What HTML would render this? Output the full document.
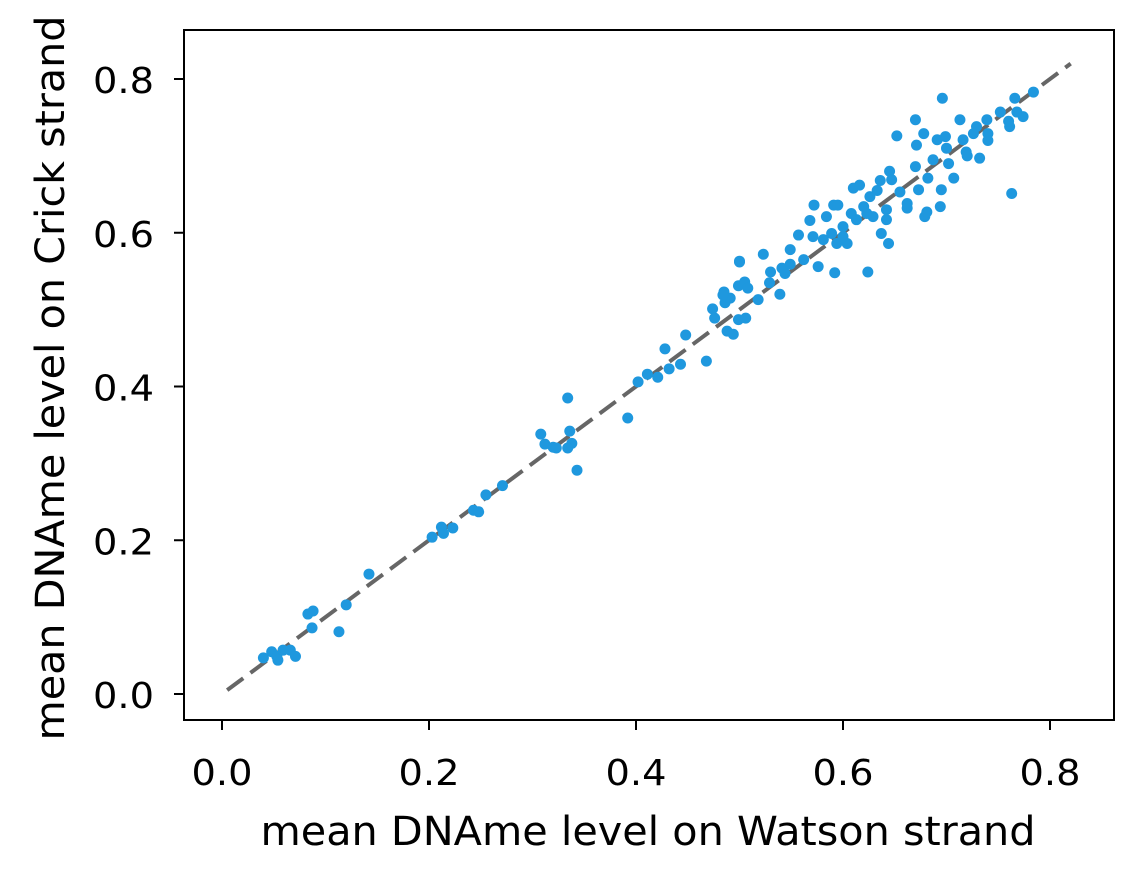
<!DOCTYPE html>
<html><head><meta charset="utf-8"><style>
html,body{margin:0;padding:0;background:#fff;}
svg{display:block;font-family:"DejaVu Sans","Liberation Sans",sans-serif;}
</style></head><body>
<svg id="chart" width="1144" height="882">
<rect x="184" y="30" width="930" height="690" fill="#fff" stroke="#000" stroke-width="2"/>
<g id="ticks"></g>
<line id="diag" stroke="#666" stroke-width="4" stroke-dasharray="20,9"/>
<g id="pts"></g>
<text x="648" y="845" font-size="40" text-anchor="middle" textLength="775" lengthAdjust="spacingAndGlyphs">mean DNAme level on Watson strand</text>
<text transform="translate(64,378) rotate(-90)" font-size="40" text-anchor="middle" textLength="725" lengthAdjust="spacingAndGlyphs">mean DNAme level on Crick strand</text>
</svg>
<script>
const xTicks=[0.0,0.2,0.4,0.6,0.8];
const yTicks=[0.0,0.2,0.4,0.6,0.8];
const tickLabels=["0.0","0.2","0.4","0.6","0.8"];
const diagRange=[0.005,0.82];
const watson=[0.040,0.048,0.053,0.059,0.066,0.071,0.054,0.083,0.088,0.087,0.113,0.120,0.142,0.203,0.212,0.214,0.223,0.243,0.248,0.255,0.271,
0.308,0.312,0.320,0.323,0.334,0.336,0.338,0.334,0.343,0.392,0.402,0.411,0.421,0.428,0.432,0.443,0.448,0.468,0.474,0.476,0.485,0.486,0.488,0.491,0.494,0.499,0.500,0.505,0.499,0.506,
0.484,0.500,0.523,0.530,0.539,0.544,0.549,0.557,0.562,0.568,0.571,0.572,0.576,0.584,0.591,0.595,0.592,0.594,0.600,0.604,0.610,0.616,0.613,0.620,0.624,0.626,0.629,0.633,0.636,0.637,0.642,0.644,0.645,0.647,0.652,0.655,0.662,0.662,
0.670,0.670,0.671,0.673,0.678,0.679,0.681,0.682,0.687,0.691,0.694,0.695,0.696,0.699,0.702,0.707,0.713,0.716,0.719,0.726,0.729,0.732,0.739,0.740,0.752,0.763,0.761,0.766,0.768,0.774,0.784,
0.642,0.623,0.608,0.581,0.600,0.589,0.760,0.740,0.720,0.700,0.518,0.508,0.529,0.541,0.549];
const crick=[0.047,0.055,0.049,0.057,0.057,0.049,0.044,0.104,0.108,0.086,0.081,0.116,0.156,0.204,0.217,0.209,0.216,0.239,0.237,0.259,0.271,
0.338,0.325,0.321,0.320,0.385,0.342,0.326,0.320,0.291,0.359,0.406,0.416,0.412,0.449,0.423,0.429,0.467,0.433,0.501,0.489,0.523,0.509,0.472,0.515,0.468,0.531,0.563,0.536,0.487,0.489,
0.519,0.562,0.572,0.549,0.520,0.547,0.578,0.597,0.565,0.616,0.595,0.636,0.556,0.621,0.636,0.636,0.548,0.586,0.608,0.586,0.658,0.662,0.617,0.634,0.549,0.647,0.621,0.655,0.668,0.599,0.617,0.586,0.680,0.669,0.726,0.653,0.632,0.638,
0.747,0.686,0.714,0.656,0.729,0.621,0.627,0.671,0.695,0.721,0.634,0.656,0.775,0.725,0.690,0.671,0.747,0.721,0.705,0.729,0.738,0.697,0.747,0.729,0.757,0.651,0.738,0.775,0.757,0.751,0.783,
0.630,0.625,0.625,0.591,0.595,0.599,0.745,0.720,0.700,0.710,0.513,0.528,0.535,0.554,0.559];
const NS="http://www.w3.org/2000/svg";
const xs=v=>222+v*1035;
const ys=v=>694-v*768.75;
const tg=document.getElementById('ticks');
function mk(tag,attrs,parent){const e=document.createElementNS(NS,tag);for(const k in attrs)e.setAttribute(k,attrs[k]);parent.appendChild(e);return e;}
xTicks.forEach((v,i)=>{
  const l=mk('line',{x1:xs(v),x2:xs(v),y1:720,y2:730,stroke:'#000','stroke-width':2},tg);
  
  
  const t=mk('text',{x:xs(v),y:785,'font-size':36,'text-anchor':'middle',textLength:61,lengthAdjust:'spacingAndGlyphs'},tg);
  t.textContent=tickLabels[i];
  
  
});
yTicks.forEach((v,i)=>{
  const l=mk('line',{x1:174,x2:184,y1:ys(v),y2:ys(v),stroke:'#000','stroke-width':2},tg);
  
  
  const t=mk('text',{x:154,y:ys(v)+14,'font-size':36,'text-anchor':'end',textLength:61,lengthAdjust:'spacingAndGlyphs'},tg);
  t.textContent=tickLabels[i];
  
  
});
const d=document.getElementById('diag');
d.setAttribute('x1',xs(diagRange[0]));d.setAttribute('y1',ys(diagRange[0]));
d.setAttribute('x2',xs(diagRange[1]));d.setAttribute('y2',ys(diagRange[1]));
const pg=document.getElementById('pts');
watson.forEach((w,i)=>{
  const c=mk('circle',{cx:xs(w),cy:ys(crick[i]),r:5.5,fill:'#1f98de'},pg);
  
  
});
pg.parentNode.insertBefore(d,pg);
</script>
</body></html>
